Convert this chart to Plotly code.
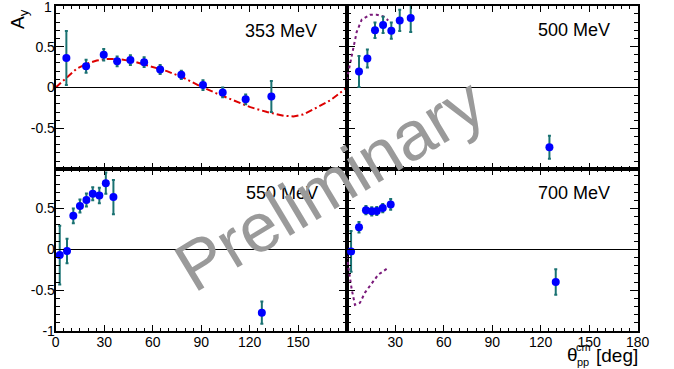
import plotly.graph_objects as go

W, H = 674, 369

def fx(px):
    return px / W

def fy(py):
    return 1 - py / H

# ---------------- data ----------------
# 353 MeV
th353 = [6.6, 18.8, 29.7, 38.0, 46.2, 54.7, 64.6, 77.7, 91.1, 103.3, 117.5, 133.4]
ay353 = [0.36, 0.26, 0.40, 0.32, 0.335, 0.31, 0.22, 0.155, 0.03, -0.06, -0.145, -0.11]
er353 = [0.33, 0.08, 0.07, 0.06, 0.06, 0.06, 0.055, 0.05, 0.06, 0.06, 0.06, 0.19]
# 500 MeV
th500 = [7.6, 12.8, 17.5, 22.5, 27.6, 32.8, 39.6, 125.4]
ay500 = [0.195, 0.355, 0.70, 0.765, 0.695, 0.82, 0.85, -0.73]
er500 = [0.19, 0.11, 0.095, 0.10, 0.10, 0.13, 0.17, 0.14]
# 550 MeV
th550 = [2.5, 7.0, 10.9, 15.0, 19.0, 22.9, 27.0, 31.0, 35.7, 127.5]
ay550 = [-0.07, -0.02, 0.41, 0.53, 0.605, 0.68, 0.66, 0.81, 0.64, -0.775]
er550 = [0.36, 0.15, 0.09, 0.08, 0.08, 0.08, 0.095, 0.13, 0.21, 0.135]
# 700 MeV
th700 = [2.7, 7.6, 11.9, 15.5, 18.6, 22.3, 27.2, 129.3]
ay700 = [-0.025, 0.27, 0.48, 0.465, 0.47, 0.505, 0.55, -0.40]
er700 = [0.25, 0.065, 0.05, 0.05, 0.05, 0.05, 0.065, 0.155]

# theory curves
cth353 = [0, 6.8, 13, 19.2, 25.4, 31.6, 37.8, 48, 58.5, 68.8, 79, 89.4, 99.7, 110,
          120.4, 130.8, 141, 147, 153, 160, 170, 175, 180]
cay353 = [0, 0.12, 0.23, 0.29, 0.33, 0.35, 0.35, 0.32, 0.26, 0.20, 0.12, 0.016, -0.074,
          -0.156, -0.24, -0.30, -0.345, -0.353, -0.33, -0.26, -0.155, -0.08, 0]
cth500 = [0, 2.0, 4.1, 6.2, 9.3, 14.4, 18.6, 22.6, 25.7]
cay500 = [0.09, 0.29, 0.50, 0.68, 0.83, 0.89, 0.89, 0.87, 0.82]
cth700 = [0, 1.6, 3.1, 5.1, 8.2, 11.3, 15.5, 19.5, 24.7]
cay700 = [-0.08, -0.29, -0.49, -0.68, -0.655, -0.53, -0.41, -0.31, -0.24]

labels = ["353 MeV", "500 MeV", "550 MeV", "700 MeV"]
xticks_left = [0, 30, 60, 90, 120, 150]
xticks_right = [30, 60, 90, 120, 150, 180]
yticks_top = [1, 0.5, 0, -0.5]
yticks_bot = [0.5, 0, -0.5, -1]

# ---------------- figure ----------------
FONT = "Liberation Sans, Arial, sans-serif"
BLUE = "#0000ff"
TEAL = "#1a7272"
RED = "#dd0000"
PURPLE = "#7a1a7a"

fig = go.Figure()

def curve(x, y, color, dash, xa, ya):
    fig.add_trace(go.Scatter(x=x, y=y, mode="lines", xaxis=xa, yaxis=ya,
                             line=dict(color=color, width=2, dash=dash),
                             hoverinfo="skip", showlegend=False))

def points(x, y, e, xa, ya):
    fig.add_trace(go.Scatter(x=x, y=y, mode="markers", xaxis=xa, yaxis=ya,
                             marker=dict(color=BLUE, size=8, symbol="circle"),
                             error_y=dict(type="data", array=e, visible=True,
                                          color=TEAL, thickness=2, width=1.5),
                             showlegend=False))

curve(cth353, cay353, RED, "7px,3px,2px,3px", "x", "y")
curve(cth500, cay500, PURPLE, "3px,3px", "x2", "y2")
curve(cth700, cay700, PURPLE, "3px,3px", "x4", "y4")
points(th353, ay353, er353, "x", "y")
points(th500, ay500, er500, "x2", "y2")
points(th550, ay550, er550, "x3", "y3")
points(th700, ay700, er700, "x4", "y4")

xL = [fx(55.7), fx(346.7)]
xR = [fx(346.7), fx(637.7)]
yT = [fy(168.5), fy(5.7)]
yB = [fy(331.0), fy(168.5)]

def xaxis(domain, anchor, ticks, show):
    d = dict(domain=domain, anchor=anchor, range=[0, 180], automargin=False,
             showline=True, linecolor="black", linewidth=2, mirror="allticks",
             ticks="inside", ticklen=6, tickwidth=1, tickcolor="black",
             tickvals=ticks, showticklabels=show, ticklabelstandoff=-3,
             minor=dict(ticks="inside", ticklen=3, dtick=5, tick0=0, tickcolor="black", tickwidth=1),
             showgrid=False, zeroline=False,
             tickfont=dict(family=FONT, size=14, color="black"))
    if show:
        d["ticktext"] = [str(t) for t in ticks]
    return d

def yaxis(domain, anchor, rng, ticks, show, skip_top=False):
    vals = [t for t in ticks if not (skip_top and t == 1)]
    d = dict(domain=domain, anchor=anchor, range=rng, automargin=False,
             showline=True, linecolor="black", linewidth=2, mirror="allticks",
             ticks="inside", ticklen=8, tickwidth=1, tickcolor="black",
             tickvals=vals, showticklabels=show, ticklabelstandoff=-4,
             minor=dict(ticks="inside", ticklen=4, dtick=0.1, tick0=0, tickcolor="black", tickwidth=1),
             showgrid=False, zeroline=True, zerolinecolor="black", zerolinewidth=1,
             tickfont=dict(family=FONT, size=14, color="black"))
    if show:
        d["ticktext"] = [("%g" % t) for t in vals]
    return d

fig.update_layout(
    width=W, height=H, margin=dict(l=0, r=0, t=0, b=0, autoexpand=False),
    paper_bgcolor="white", plot_bgcolor="white",
    font=dict(family=FONT, color="black"),
    showlegend=False,
    xaxis=xaxis(xL, "y", xticks_left, False),
    yaxis=yaxis(yT, "x", [-0.99, 1.0], yticks_top, True, skip_top=True),
    xaxis2=xaxis(xR, "y2", xticks_right, False),
    yaxis2=yaxis(yT, "x2", [-0.99, 1.0], yticks_top, False),
    xaxis3=xaxis(xL, "y3", xticks_left, True),
    yaxis3=yaxis(yB, "x3", [-1.0, 0.99], yticks_bot, True),
    xaxis4=xaxis(xR, "y4", xticks_right, True),
    yaxis4=yaxis(yB, "x4", [-1.0, 0.99], yticks_bot, False),
)

ann = []
# top tick label "1" of the upper-left axis (sits at the very top edge)
ann.append(dict(text="%g" % yticks_top[0], x=1.0, y=yticks_top[0], xref="x domain", yref="y",
                xanchor="right", yanchor="middle", xshift=-(W * (xL[1] - xL[0])) - 1.5,
                yshift=-1, showarrow=False, font=dict(family=FONT, size=14, color="black")))
lab_pos = [(319, 31), (612, 30), (320, 193), (612, 193)]
for t, (px, py) in zip(labels, lab_pos):
    ann.append(dict(text=t, x=fx(px), y=fy(py), xref="paper", yref="paper",
                    xanchor="right", yanchor="middle", showarrow=False,
                    font=dict(family=FONT, size=18, color="black")))
# axis titles
ann.append(dict(text="A<sub>y</sub>", x=fx(19), y=fy(19), xref="paper", yref="paper",
                xanchor="center", yanchor="middle", textangle=-90, showarrow=False,
                font=dict(family=FONT, size=19, color="black")))
ann.append(dict(text="θ", x=fx(572), y=fy(354), xref="paper", yref="paper",
                xanchor="center", yanchor="middle", showarrow=False,
                font=dict(family=FONT, size=19, color="black")))
ann.append(dict(text="cm", x=fx(583), y=fy(346.5), xref="paper", yref="paper",
                xanchor="center", yanchor="middle", showarrow=False,
                font=dict(family=FONT, size=11, color="black")))
ann.append(dict(text="pp", x=fx(583), y=fy(362), xref="paper", yref="paper",
                xanchor="center", yanchor="middle", showarrow=False,
                font=dict(family=FONT, size=11, color="black")))
ann.append(dict(text="[deg]", x=fx(639.5), y=fy(355), xref="paper", yref="paper",
                xanchor="right", yanchor="middle", showarrow=False,
                font=dict(family=FONT, size=19, color="black")))
# watermark
ann.append(dict(text="Preliminary", x=fx(330), y=fy(184), xref="paper", yref="paper",
                xanchor="center", yanchor="middle", textangle=-31, showarrow=False,
                font=dict(family=FONT, size=69, color="#9a9a9a")))
fig.update_layout(annotations=ann)

fig.write_html("out.html", config={"displayModeBar": False},
               post_script="document.body.style.margin='0';document.body.style.padding='0';")
